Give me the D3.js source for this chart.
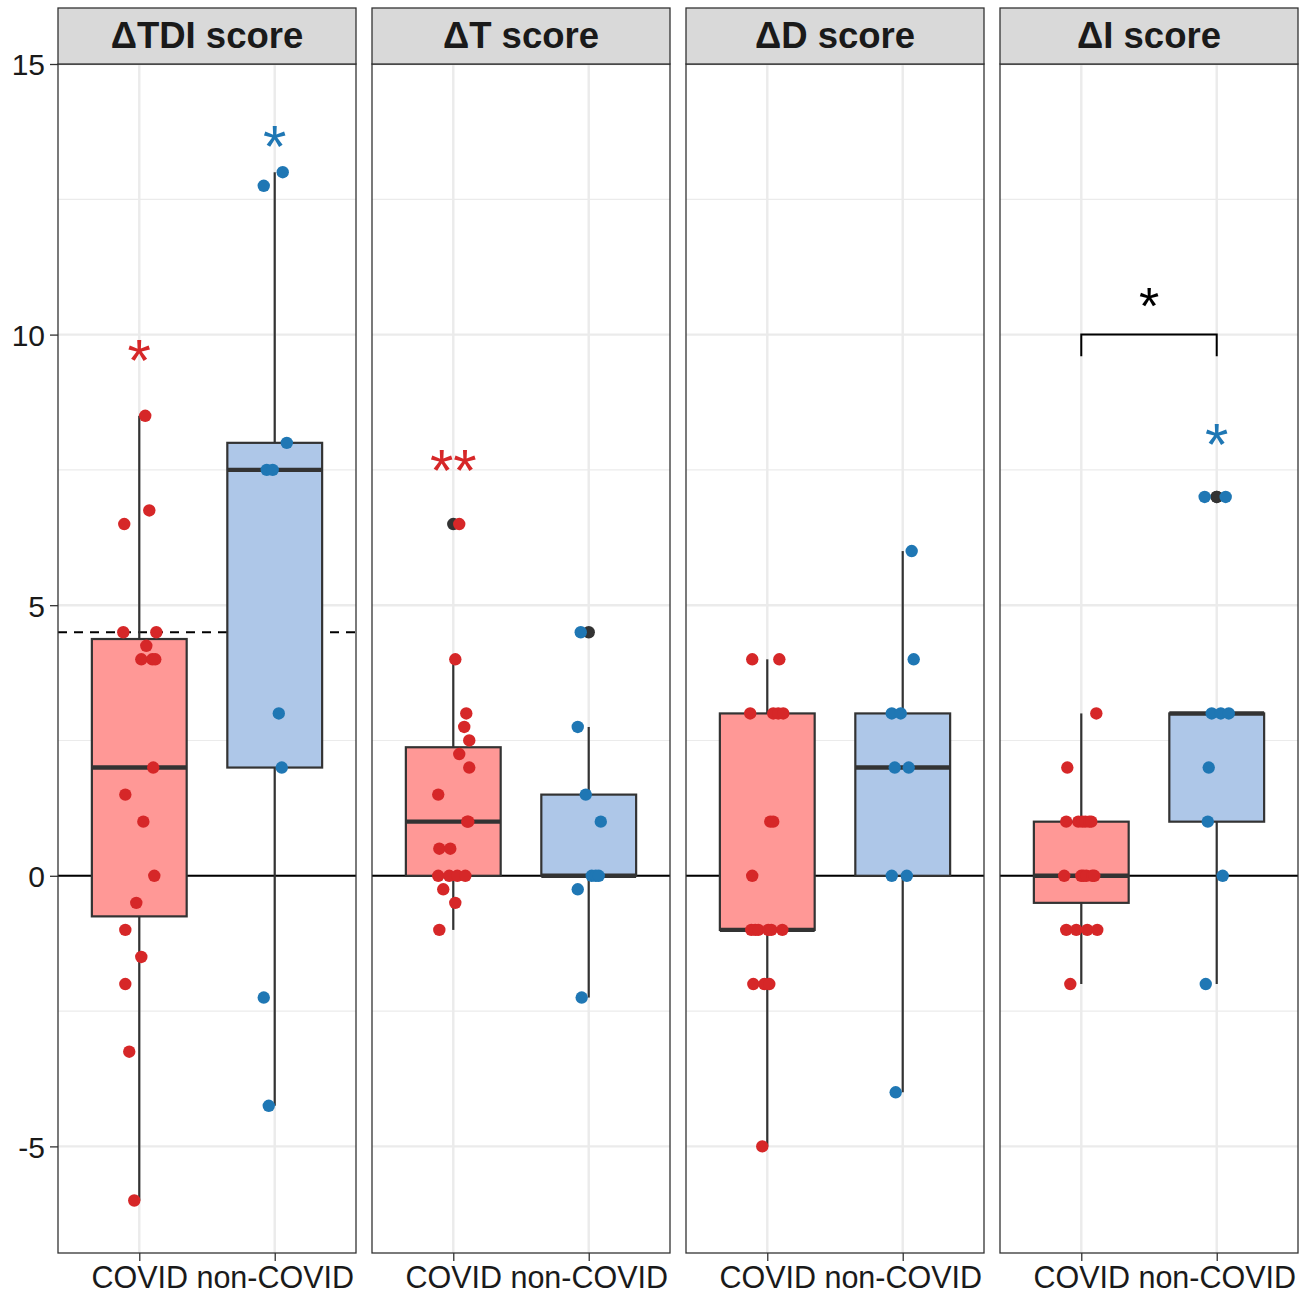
<!DOCTYPE html>
<html>
<head>
<meta charset="utf-8">
<script src="https://cdn.jsdelivr.net/npm/d3@7"></script>
<style>
  body { margin: 0; background: #fff; }
  svg { font-family: "Liberation Sans", Arial, sans-serif; }
</style>
</head>
<body>
<svg id="chart" width="1316" height="1295"></svg>
<script>
// facets and groups
var facets = ["ΔTDI score", "ΔT score", "ΔD score", "ΔI score"];
var groups = ["COVID", "non-COVID"];
var yTicks = [-5, 0, 5, 10, 15];
var yMinor = [-2.5, 2.5, 7.5, 12.5];

// values per facet / group, jitter is horizontal offset in category units
var tdiCovid = [8.5, 6.75, 6.5, 4.5, 4.5, 4.25, 4, 4, 4, 2, 1.5, 1, 0, -0.5, -1, -1.5, -2, -3.25, -6];
var tdiCovidJit = [0.044, 0.074, -0.111, -0.118, 0.126, 0.052, 0.015, 0.096, 0.118, 0.103, -0.103, 0.030, 0.111, -0.022, -0.103, 0.015, -0.103, -0.074, -0.037];
var tdiNon = [13, 12.75, 8, 7.5, 7.5, 3, 2, -2.25, -4.25];
var tdiNonJit = [0.059, -0.081, 0.089, -0.059, -0.015, 0.030, 0.052, -0.081, -0.044];

var tCovid = [6.5, 4, 3, 2.75, 2.5, 2.25, 2, 1.5, 1, 1, 0.5, 0.5, 0, 0, 0, 0, -0.25, -0.5, -1];
var tCovidJit = [0.044, 0.015, 0.096, 0.081, 0.118, 0.044, 0.118, -0.111, 0.111, 0.103, -0.103, -0.022, -0.111, -0.030, 0.030, 0.089, -0.074, 0.015, -0.103];
var tNon = [4.5, 2.75, 1.5, 1, 0, 0, 0, -0.25, -2.25];
var tNonJit = [-0.059, -0.081, -0.022, 0.089, 0.022, 0.052, 0.074, -0.081, -0.052];

var dCovid = [4, 4, 3, 3, 3, 3, 1, 1, 0, -1, -1, -1, -1, -1, -1, -2, -2, -2, -5];
var dCovidJit = [-0.111, 0.089, -0.126, 0.044, 0.081, 0.118, 0.022, 0.044, -0.111, -0.118, -0.089, -0.066, 0.007, 0.030, 0.111, -0.103, -0.022, 0.015, -0.037];
var dNon = [6, 4, 3, 3, 2, 2, 0, 0, -4];
var dNonJit = [0.066, 0.081, -0.081, -0.015, -0.059, 0.044, -0.081, 0.030, -0.052];

var iCovid = [3, 2, 1, 1, 1, 1, 1, 1, 0, 0, 0, 0, 0, 0, -1, -1, -1, -1, -2];
var iCovidJit = [0.111, -0.103, -0.111, -0.022, 0.007, 0.030, 0.059, 0.074, -0.126, 0, 0.015, 0.037, 0.081, 0.096, -0.111, -0.037, 0.044, 0.118, -0.081];
var iNon = [7, 7, 3, 3, 3, 2, 1, 0, -2];
var iNonJit = [-0.089, 0.066, -0.037, 0.030, 0.089, -0.059, -0.066, 0.044, -0.081];

// significance labels
var starFacet = [0, 0, 1, 3];
var starGroup = [0, 1, 0, 1];
var starY = [9.69, 13.66, 7.67, 8.15];
var starText = ["*", "*", "**", "*"];

var bracketFacet = 3;
var bracketY = 10;
var bracketTipY = 9.6;
var bracketLabelY = 10.68;
var bracketLabel = "*";

var thresholdFacet = 0;
var thresholdY = 4.5;

var series = [
  [[tdiCovid, tdiCovidJit], [tdiNon, tdiNonJit]],
  [[tCovid, tCovidJit], [tNon, tNonJit]],
  [[dCovid, dCovidJit], [dNon, dNonJit]],
  [[iCovid, iCovidJit], [iNon, iNonJit]]
];

var pointColor = ["#d62728", "#1f77b4"];
var boxFill = ["#ff9896", "#aec7e8"];
var lineCol = "#333333";

var margin = { top: 64, left: 58 };
var panelW = 298, panelGap = 16, panelBottom = 1253, stripTop = 8;

var svg = d3.select("#chart");

var y = d3.scaleLinear()
          .domain([-6.97, 15.0])
          .range([panelBottom, margin.top]);

var x = d3.scaleLinear()
          .domain([0.4, 2.6])
          .range([0, panelW]);

function boxStats(vals) {
  var s = vals.slice().sort(d3.ascending);
  var q1 = d3.quantile(s, 0.25), med = d3.quantile(s, 0.5), q3 = d3.quantile(s, 0.75);
  var iqr = q3 - q1;
  var inside = s.filter(v => v >= q1 - 1.5 * iqr && v <= q3 + 1.5 * iqr);
  return {
    q1: q1, med: med, q3: q3,
    lo: d3.min(inside), hi: d3.max(inside),
    out: s.filter(v => v < q1 - 1.5 * iqr || v > q3 + 1.5 * iqr)
  };
}

// y axis ticks + labels
var yAxis = svg.append("g")
  .attr("transform", `translate(${margin.left},0)`)
  .call(d3.axisLeft(y).tickValues(yTicks).tickSize(8).tickPadding(5).tickFormat(d => String(d)));
yAxis.select(".domain").remove();
yAxis.selectAll(".tick line").attr("stroke", lineCol).attr("stroke-width", 1.3);
yAxis.selectAll(".tick text")
  .attr("fill", "#1a1a1a")
  .style("font-size", "30px")
  .attr("dy", "0.36em");

facets.forEach(function(name, fi) {
  var px = margin.left + fi * (panelW + panelGap);
  var g = svg.append("g").attr("transform", `translate(${px},0)`);
  var ph = panelBottom - margin.top;

  // grid
  g.selectAll(".minor").data(yMinor).enter().append("line")
    .attr("x1", 0).attr("x2", panelW)
    .attr("y1", d => y(d)).attr("y2", d => y(d))
    .attr("stroke", "#ebebeb").attr("stroke-width", 1.2);
  g.selectAll(".major").data(yTicks).enter().append("line")
    .attr("x1", 0).attr("x2", panelW)
    .attr("y1", d => y(d)).attr("y2", d => y(d))
    .attr("stroke", "#ebebeb").attr("stroke-width", 2.4);
  g.selectAll(".vgrid").data([1, 2]).enter().append("line")
    .attr("x1", d => x(d)).attr("x2", d => x(d))
    .attr("y1", margin.top).attr("y2", panelBottom)
    .attr("stroke", "#ebebeb").attr("stroke-width", 2.4);

  // zero line
  g.append("line")
    .attr("x1", 0).attr("x2", panelW)
    .attr("y1", y(0)).attr("y2", y(0))
    .attr("stroke", "black").attr("stroke-width", 2);

  if (fi === thresholdFacet) {
    g.append("line")
      .attr("x1", 0).attr("x2", panelW)
      .attr("y1", y(thresholdY)).attr("y2", y(thresholdY))
      .attr("stroke", "black").attr("stroke-width", 2)
      .attr("stroke-dasharray", "9,7");
  }

  // boxplots
  series[fi].forEach(function(sr, gi) {
    var st = boxStats(sr[0]);
    var cx = x(gi + 1), hw = x(1.35) - x(1);
    g.append("line")
      .attr("x1", cx).attr("x2", cx)
      .attr("y1", y(st.hi)).attr("y2", y(st.q3))
      .attr("stroke", lineCol).attr("stroke-width", 2.2);
    g.append("line")
      .attr("x1", cx).attr("x2", cx)
      .attr("y1", y(st.q1)).attr("y2", y(st.lo))
      .attr("stroke", lineCol).attr("stroke-width", 2.2);
    g.append("rect")
      .attr("x", cx - hw).attr("width", 2 * hw)
      .attr("y", y(st.q3)).attr("height", y(st.q1) - y(st.q3))
      .attr("fill", boxFill[gi])
      .attr("stroke", lineCol).attr("stroke-width", 2.2);
    g.append("line")
      .attr("x1", cx - hw).attr("x2", cx + hw)
      .attr("y1", y(st.med)).attr("y2", y(st.med))
      .attr("stroke", lineCol).attr("stroke-width", 4.4);
    g.selectAll(".out" + gi).data(st.out).enter().append("circle")
      .attr("cx", cx).attr("cy", d => y(d)).attr("r", 6.2)
      .attr("fill", lineCol);
  });

  // jittered points
  series[fi].forEach(function(sr, gi) {
    g.selectAll(".pt" + gi).data(sr[0]).enter().append("circle")
      .attr("cx", (d, i) => x(gi + 1 + sr[1][i]))
      .attr("cy", d => y(d))
      .attr("r", 6.2)
      .attr("fill", pointColor[gi]);
  });

  // stars
  starFacet.forEach(function(f, si) {
    if (f !== fi) return;
    g.append("text")
      .attr("x", x(starGroup[si] + 1))
      .attr("y", y(starY[si]) + 0.5 * 60)
      .attr("text-anchor", "middle")
      .attr("fill", pointColor[starGroup[si]])
      .style("font-size", "60px")
      .text(starText[si]);
  });

  if (fi === bracketFacet) {
    g.append("path")
      .attr("d", `M${x(1)},${y(bracketTipY)}V${y(bracketY)}H${x(2)}V${y(bracketTipY)}`)
      .attr("fill", "none").attr("stroke", "black").attr("stroke-width", 2);
    g.append("text")
      .attr("x", (x(1) + x(2)) / 2)
      .attr("y", y(bracketLabelY) + 0.5 * 52)
      .attr("text-anchor", "middle")
      .attr("fill", "black")
      .style("font-size", "52px")
      .text(bracketLabel);
  }

  // panel border
  g.append("rect")
    .attr("x", 0).attr("y", margin.top)
    .attr("width", panelW).attr("height", ph)
    .attr("fill", "none").attr("stroke", lineCol).attr("stroke-width", 1.3);

  // strip
  g.append("rect")
    .attr("x", 0).attr("y", stripTop)
    .attr("width", panelW).attr("height", margin.top - stripTop)
    .attr("fill", "#d9d9d9").attr("stroke", lineCol).attr("stroke-width", 1.3);
  g.append("text")
    .attr("x", panelW / 2)
    .attr("y", (stripTop + margin.top) / 2 + 12)
    .attr("text-anchor", "middle")
    .attr("fill", "#1a1a1a")
    .style("font-size", "36.5px")
    .style("font-weight", "bold")
    .text(name);

  // x axis
  var xAxis = g.append("g")
    .attr("transform", `translate(0,${panelBottom})`)
    .call(d3.axisBottom(x).tickValues([1, 2]).tickSize(8).tickPadding(5)
            .tickFormat(d => groups[d - 1]));
  xAxis.select(".domain").remove();
  xAxis.selectAll(".tick line").attr("stroke", lineCol).attr("stroke-width", 1.3);
  xAxis.selectAll(".tick text")
    .attr("fill", "#1a1a1a")
    .style("font-size", "30.5px");
});
</script>
</body>
</html>
